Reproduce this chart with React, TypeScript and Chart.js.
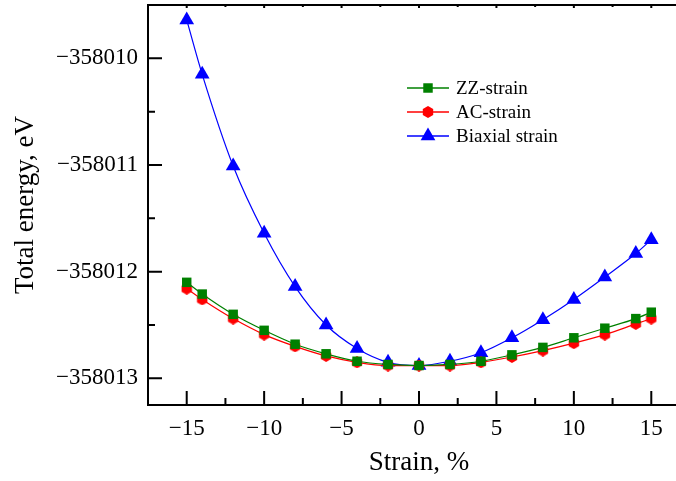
import React, { useEffect, useRef } from 'react';
import { Chart, registerables } from 'chart.js';

Chart.register(...registerables);

const strain = [-15, -14, -12, -10, -8, -6, -4, -2, 0, 2, 4, 6, 8, 10, 12, 14, 15];
const zzStrain = [
  -358012.10, -358012.21, -358012.40, -358012.55, -358012.68, -358012.77, -358012.84, -358012.87,
  -358012.88, -358012.87, -358012.84, -358012.78, -358012.71, -358012.62, -358012.53, -358012.44, -358012.38,
];
const acStrain = [
  -358012.16, -358012.26, -358012.44, -358012.59, -358012.70, -358012.79, -358012.85, -358012.88,
  -358012.88, -358012.88, -358012.85, -358012.80, -358012.74, -358012.67, -358012.59, -358012.49, -358012.44,
];
const biaxialStrain = [
  -358009.64, -358010.15, -358011.01, -358011.64, -358012.14, -358012.50, -358012.72, -358012.85,
  -358012.88, -358012.84, -358012.76, -358012.62, -358012.45, -358012.26, -358012.05, -358011.83, -358011.70,
];
const seriesLabels = ['ZZ-strain', 'AC-strain', 'Biaxial strain'];
const xTickValues = [-15, -10, -5, 0, 5, 10, 15];
const xMinorTickValues = [-12.5, -7.5, -2.5, 2.5, 7.5, 12.5];
const yTickValues = [-358013, -358012, -358011, -358010];
const yMinorTickValues = [-358012.5, -358011.5, -358010.5];

const FONT = "'Liberation Serif', 'Times New Roman', serif";

function makeHexagon(color: string, d: number): HTMLCanvasElement {
  const c = document.createElement('canvas');
  c.width = d;
  c.height = d;
  const g = c.getContext('2d')!;
  const r = d / 2;
  g.fillStyle = color;
  g.beginPath();
  for (let i = 0; i < 6; i++) {
    const a = Math.PI / 6 + (i * Math.PI) / 3;
    const px = r + r * Math.cos(a);
    const py = r + r * Math.sin(a);
    if (i === 0) g.moveTo(px, py);
    else g.lineTo(px, py);
  }
  g.closePath();
  g.fill();
  return c;
}

const fmt = (v: number) => (v < 0 ? '\u2212' : '') + String(Math.abs(v));

function drawMarker(ctx: CanvasRenderingContext2D, style: any, r: number, cx: number, cy: number, color: string) {
  ctx.fillStyle = color;
  if (style instanceof HTMLCanvasElement) {
    ctx.drawImage(style, cx - style.width / 2, cy - style.height / 2);
    return;
  }
  ctx.beginPath();
  if (style === 'rect') {
    const s = r * Math.SQRT1_2;
    ctx.rect(cx - s, cy - s, 2 * s, 2 * s);
  } else if (style === 'triangle') {
    const rad = -Math.PI / 2;
    ctx.moveTo(cx + Math.cos(rad) * r, cy + Math.sin(rad) * r);
    ctx.lineTo(cx + Math.cos(rad + (2 * Math.PI) / 3) * r, cy + Math.sin(rad + (2 * Math.PI) / 3) * r);
    ctx.lineTo(cx + Math.cos(rad + (4 * Math.PI) / 3) * r, cy + Math.sin(rad + (4 * Math.PI) / 3) * r);
    ctx.closePath();
  }
  ctx.fill();
}

export default function App() {
  const ref = useRef<HTMLCanvasElement | null>(null);

  useEffect(() => {
    if (!ref.current) return;
    const hex = makeHexagon('#ff0000', 12);

    const axesPlugin = {
      id: 'inwardAxes',
      afterDatasetsDraw(chart: any) {
        const { ctx, chartArea, scales } = chart;
        const { left, right, top, bottom } = chartArea;
        const x = scales.x;
        const y = scales.y;
        ctx.save();
        ctx.strokeStyle = '#000';
        ctx.lineWidth = 2;
        ctx.beginPath();
        ctx.moveTo(right + 5, top);
        ctx.lineTo(left, top);
        ctx.lineTo(left, bottom);
        ctx.lineTo(right + 5, bottom);
        ctx.stroke();
        ctx.beginPath();
        xTickValues.forEach((v) => {
          const p = x.getPixelForValue(v);
          ctx.moveTo(p, bottom);
          ctx.lineTo(p, bottom - 14);
          ctx.moveTo(p, top);
          ctx.lineTo(p, top + 3);
        });
        xMinorTickValues.forEach((v) => {
          const p = x.getPixelForValue(v);
          ctx.moveTo(p, bottom);
          ctx.lineTo(p, bottom - 7);
          ctx.moveTo(p, top);
          ctx.lineTo(p, top + 2);
        });
        yTickValues.forEach((v) => {
          const p = y.getPixelForValue(v);
          ctx.moveTo(left, p);
          ctx.lineTo(left + 14, p);
        });
        yMinorTickValues.forEach((v) => {
          const p = y.getPixelForValue(v);
          ctx.moveTo(left, p);
          ctx.lineTo(left + 7, p);
        });
        ctx.stroke();
        ctx.restore();
      },
      afterDraw(chart: any) {
        const { ctx } = chart;
        const rows = [88, 112, 136];
        ctx.save();
        chart.data.datasets.forEach((ds: any, i: number) => {
          const yy = rows[i];
          ctx.strokeStyle = ds.borderColor;
          ctx.lineWidth = 1.3;
          ctx.beginPath();
          ctx.moveTo(407, yy);
          ctx.lineTo(449, yy);
          ctx.stroke();
          drawMarker(ctx, ds.pointStyle, ds.pointRadius, 428, yy, ds.pointBackgroundColor);
          ctx.fillStyle = '#000';
          ctx.font = `19px ${FONT}`;
          ctx.textBaseline = 'middle';
          ctx.textAlign = 'left';
          ctx.fillText(ds.label, 456, yy + 1);
        });
        ctx.restore();
      },
    };

    const mk = (vals: number[]) => strain.map((s, i) => ({ x: s, y: vals[i] }));

    const chart = new Chart(ref.current, {
      type: 'line',
      data: {
        datasets: [
          {
            label: seriesLabels[0],
            data: mk(zzStrain),
            borderColor: '#008000',
            backgroundColor: '#008000',
            pointBackgroundColor: '#008000',
            pointBorderColor: '#008000',
            pointStyle: 'rect',
            pointRadius: 6.7,
            pointBorderWidth: 0,
            borderWidth: 1.2,
            cubicInterpolationMode: 'monotone',
          },
          {
            label: seriesLabels[1],
            data: mk(acStrain),
            borderColor: '#ff0000',
            backgroundColor: '#ff0000',
            pointBackgroundColor: '#ff0000',
            pointBorderColor: '#ff0000',
            pointStyle: hex as any,
            pointRadius: 6,
            pointBorderWidth: 0,
            borderWidth: 1.2,
            cubicInterpolationMode: 'monotone',
          },
          {
            label: seriesLabels[2],
            data: mk(biaxialStrain),
            borderColor: '#0000ff',
            backgroundColor: '#0000ff',
            pointBackgroundColor: '#0000ff',
            pointBorderColor: '#0000ff',
            pointStyle: 'triangle',
            pointRadius: 8.5,
            pointBorderWidth: 0,
            borderWidth: 1.2,
            cubicInterpolationMode: 'monotone',
          },
        ] as any,
      },
      options: {
        animation: false,
        responsive: false,
        devicePixelRatio: 1,
        layout: { autoPadding: false, padding: { top: 5, left: 0, right: 0, bottom: 0 } },
        plugins: {
          legend: { display: false },
          tooltip: { enabled: false },
        },
        scales: {
          x: {
            type: 'linear',
            min: -17.5,
            max: 17.5,
            grid: { display: false, drawTicks: false },
            border: { display: false },
            afterFit: (s: any) => {
              s.height = 76;
              s.paddingLeft = 0;
              s.paddingRight = 0;
            },
            afterBuildTicks: (s: any) => {
              s.ticks = xTickValues.map((v) => ({ value: v }));
            },
            ticks: {
              padding: 10,
              color: '#000',
              maxRotation: 0,
              autoSkip: false,
              font: { family: FONT, size: 23 },
              callback: (v: any) => fmt(Number(v)),
            },
            title: {
              display: true,
              text: 'Strain, %',
              color: '#000',
              font: { family: FONT, size: 27 },
              padding: { top: 0, bottom: 2 },
            },
          },
          y: {
            type: 'linear',
            min: -358013.25,
            max: -358009.5,
            grid: { display: false, drawTicks: false },
            border: { display: false },
            afterFit: (s: any) => {
              s.width = 148;
              s.paddingTop = 0;
              s.paddingBottom = 0;
            },
            afterBuildTicks: (s: any) => {
              s.ticks = yTickValues.map((v) => ({ value: v }));
            },
            ticks: {
              padding: 10,
              color: '#000',
              autoSkip: false,
              font: { family: FONT, size: 23 },
              callback: (v: any) => fmt(Number(v)),
            },
            title: {
              display: true,
              text: 'Total energy, eV',
              color: '#000',
              font: { family: FONT, size: 27 },
              padding: { top: 10, bottom: 0 },
            },
          },
        },
      },
      plugins: [axesPlugin],
    });
    return () => chart.destroy();
  }, []);

  return (
    <div
      style={{
        position: 'absolute',
        left: 0,
        top: 0,
        width: 676,
        height: 481,
        overflow: 'hidden',
        background: '#fff',
      }}
    >
      <canvas ref={ref} width={690} height={481} style={{ display: 'block' }} />
    </div>
  );
}
